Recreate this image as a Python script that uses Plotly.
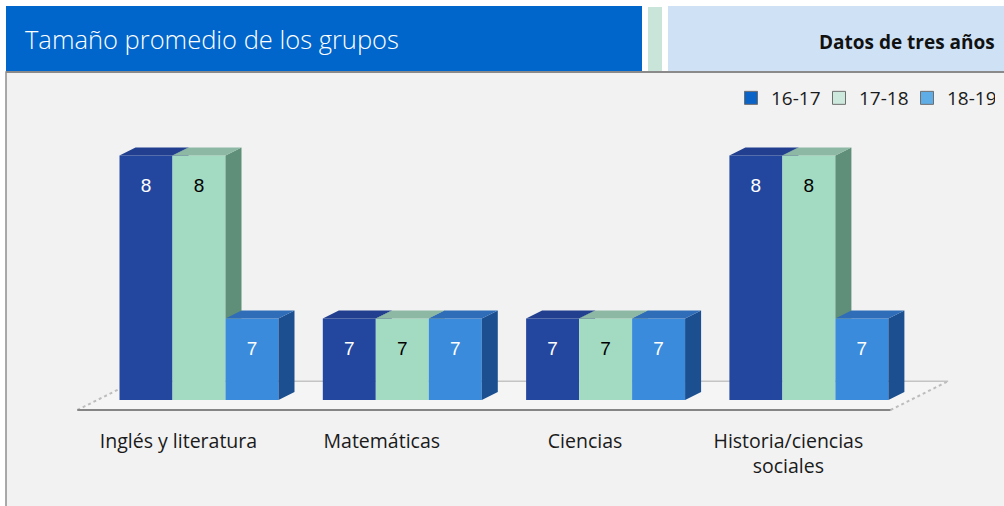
import plotly.graph_objects as go

# ---------------- data ----------------
categories = ["Inglés y literatura", "Matemáticas", "Ciencias", "Historia/ciencias sociales"]
category_labels = ["Inglés y literatura", "Matemáticas", "Ciencias", "Historia/ciencias<br>sociales"]
series_names = ["16-17", "17-18", "18-19"]
values_1617 = [8, 7, 7, 8]
values_1718 = [8, 7, 7, 8]
values_1819 = [7, 7, 7, 7]
title_text = "Tamaño promedio de los grupos"
subtitle_text = "Datos de tres años"

series_values = [values_1617, values_1718, values_1819]

# ---------------- style ----------------
FIG_W, FIG_H = 1004, 506
def pxx(x):
    return x / FIG_W
def pyy(y):
    return 1 - y / FIG_H

front_colors = ["#23479E", "#A3DBC2", "#3A8BDB"]
side_colors = ["#1A367A", "#5F8F78", "#1B4F90"]
top_colors = ["#213F8E", "#8DB8A3", "#2F6DB8"]
legend_colors = ["#0A63C7", "#CDE9DD", "#5FADE6"]
label_colors = ["white", "black", "white"]

BASE = 6.5
BARGAP = 0.218
NS = len(series_values)
BW = (1 - BARGAP) / NS
PX_PER_X = 203.3
PX_PER_Y = 163.0
DX = 16 / PX_PER_X
DY = 8 / PX_PER_Y
X0 = -199 / PX_PER_X
X1 = X0 + FIG_W / PX_PER_X
Y_BOTTOM_PX, Y_TOP_PX, BASE_PX = 440, 90, 400
Y0 = BASE - (Y_BOTTOM_PX - BASE_PX) / PX_PER_Y
Y1 = BASE + (BASE_PX - Y_TOP_PX) / PX_PER_Y
LABEL_SHIFT = 0.101
LABEL_DROP = 0.195

FONT = "Open Sans"


def clip_above(poly, c):
    out = []
    n = len(poly)
    for k in range(n):
        p, q = poly[k], poly[(k + 1) % n]
        pin, qin = p[1] >= c, q[1] >= c
        if pin:
            out.append(p)
        if pin != qin:
            t = (c - p[1]) / (q[1] - p[1])
            out.append((p[0] + t * (q[0] - p[0]), c))
    return out


def poly_xy(polys):
    xs, ys = [], []
    for poly in polys:
        if len(poly) < 3:
            continue
        for (a, b) in poly + [poly[0]]:
            xs.append(a)
            ys.append(b)
        xs.append(None)
        ys.append(None)
    return xs, ys


fig = go.Figure()

xidx = list(range(len(categories)))

# front faces (real bars)
for j, vals in enumerate(series_values):
    fig.add_trace(go.Bar(
        x=xidx, y=[v - BASE for v in vals], base=BASE,
        name=series_names[j], showlegend=False,
        marker=dict(color=front_colors[j], line=dict(width=0)),
        hoverinfo="skip",
    ))

# 3D side & top faces
for j, vals in enumerate(series_values):
    sides, tops = [], []
    for i, v in enumerate(vals):
        cx = i + (j - (NS - 1) / 2) * BW
        L, R = cx - BW / 2, cx + BW / 2
        side = [(R, BASE), (R + DX, BASE + DY), (R + DX, v + DY), (R, v)]
        if j < NS - 1:
            side = clip_above(side, series_values[j + 1][i])
        sides.append(side)
        tops.append([(L, v), (L + DX, v + DY), (R + DX, v + DY), (R, v)])
    sx, sy = poly_xy(sides)
    tx, ty = poly_xy(tops)
    fig.add_trace(go.Scatter(x=sx, y=sy, mode="lines", fill="toself",
                             fillcolor=side_colors[j], line=dict(width=0, color=side_colors[j]),
                             showlegend=False, hoverinfo="skip"))
    fig.add_trace(go.Scatter(x=tx, y=ty, mode="lines", fill="toself",
                             fillcolor=top_colors[j], line=dict(width=0, color=top_colors[j]),
                             showlegend=False, hoverinfo="skip"))

# data labels
for j, vals in enumerate(series_values):
    fig.add_trace(go.Scatter(
        x=[i + (j - (NS - 1) / 2) * BW for i in xidx],
        y=[v - LABEL_DROP for v in vals],
        text=[str(v) for v in vals], mode="text",
        textfont=dict(family="Liberation Sans, Arial", size=19, color=label_colors[j]),
        showlegend=False, hoverinfo="skip",
    ))

# legend entries
for j in range(NS):
    fig.add_trace(go.Scatter(
        x=[None], y=[None], name=series_names[j], mode="markers",
        marker=dict(symbol="square", size=13, color=legend_colors[j],
                    line=dict(color="#6E6E6E", width=1)),
        showlegend=True, hoverinfo="skip",
    ))

# helper trace for label axis
fig.add_trace(go.Scatter(x=[None], y=[None], xaxis="x2", showlegend=False, hoverinfo="skip"))

# floor geometry (in bar-depth units)
FRONT, BACK = -1.25, 2.35
fl_x0 = -0.5 + FRONT * DX
fl_x1 = len(categories) - 0.5 + FRONT * DX
fl_y = BASE + FRONT * DY
bk_x0 = -0.5 + BACK * DX
bk_x1 = len(categories) - 0.5 + BACK * DX
bk_y = BASE + BACK * DY

shapes = [
    # panel
    dict(type="rect", xref="paper", yref="paper", x0=pxx(6), x1=pxx(1012), y0=pyy(72), y1=pyy(515),
         fillcolor="#F2F2F2", line=dict(color="#8F8F8F", width=1.5), layer="below"),
    # header boxes
    dict(type="rect", xref="paper", yref="paper", x0=pxx(6), x1=pxx(642), y0=pyy(72), y1=pyy(6),
         fillcolor="#0066CC", line=dict(width=0), layer="above"),
    dict(type="rect", xref="paper", yref="paper", x0=pxx(648), x1=pxx(662), y0=pyy(72), y1=pyy(7),
         fillcolor="#C9E4D8", line=dict(width=0), layer="above"),
    dict(type="rect", xref="paper", yref="paper", x0=pxx(668), x1=pxx(1004), y0=pyy(72), y1=pyy(6),
         fillcolor="#CFE2F5", line=dict(width=0), layer="above"),
    dict(type="line", xref="paper", yref="paper", x0=pxx(6), x1=pxx(1004), y0=pyy(72), y1=pyy(72),
         line=dict(color="#8A8A8A", width=2), layer="above"),
    # floor
    dict(type="path", xref="x", yref="y",
         path=f"M{fl_x0},{fl_y} L{fl_x1},{fl_y} L{bk_x1},{bk_y} L{bk_x0},{bk_y} Z",
         fillcolor="#F5F5F5", line=dict(width=0), layer="below"),
    dict(type="line", xref="x", yref="y", x0=bk_x0, x1=bk_x1, y0=bk_y, y1=bk_y,
         line=dict(color="#C4C4C4", width=1.5), layer="below"),
    dict(type="line", xref="x", yref="y", x0=fl_x0, x1=bk_x0, y0=fl_y, y1=bk_y,
         line=dict(color="#BDBDBD", width=2, dash="dot"), layer="below"),
    dict(type="line", xref="x", yref="y", x0=fl_x1, x1=bk_x1, y0=fl_y, y1=bk_y,
         line=dict(color="#BDBDBD", width=2, dash="dot"), layer="below"),
    dict(type="line", xref="x", yref="y", x0=fl_x0, x1=fl_x1, y0=fl_y, y1=fl_y,
         line=dict(color="#858585", width=2), layer="below"),
]

annotations = [
    dict(text=title_text, xref="paper", yref="paper", x=pxx(23), y=pyy(39),
         xanchor="left", yanchor="middle", showarrow=False,
         font=dict(family=FONT, size=25.5, color="white", weight=300)),
    dict(text=f"<b>{subtitle_text}</b>", xref="paper", yref="paper", x=pxx(997), y=pyy(42),
         xanchor="right", yanchor="middle", showarrow=False,
         font=dict(family=FONT, size=19, color="#111111")),
]

fig.update_layout(
    width=FIG_W, height=FIG_H,
    margin=dict(l=0, r=0, t=0, b=0),
    paper_bgcolor="white", plot_bgcolor="rgba(0,0,0,0)",
    barmode="group", bargap=BARGAP, bargroupgap=0,
    shapes=shapes, annotations=annotations,
    showlegend=True,
    legend=dict(orientation="h", x=pxx(995), xanchor="right", y=pyy(98), yanchor="middle",
                font=dict(family=FONT, size=19, color="#1a1a1a"), bgcolor="rgba(0,0,0,0)",
                traceorder="normal", itemwidth=30, entrywidth=43),
    xaxis=dict(range=[X0, X1], domain=[0, 1], visible=False, fixedrange=True),
    xaxis2=dict(range=[X0 + LABEL_SHIFT, X1 + LABEL_SHIFT], overlaying="x", anchor="free",
                position=pyy(427), tickvals=xidx, ticktext=category_labels, showgrid=False,
                zeroline=False, showline=False, ticks="",
                tickfont=dict(family=FONT, size=19.5, color="#1a1a1a")),
    yaxis=dict(range=[Y0, Y1], domain=[pyy(Y_BOTTOM_PX), pyy(Y_TOP_PX)], visible=False,
               fixedrange=True),
)

fig.write_html("out.html", config={"displayModeBar": False},
               post_script="document.body.style.margin='0px';")
